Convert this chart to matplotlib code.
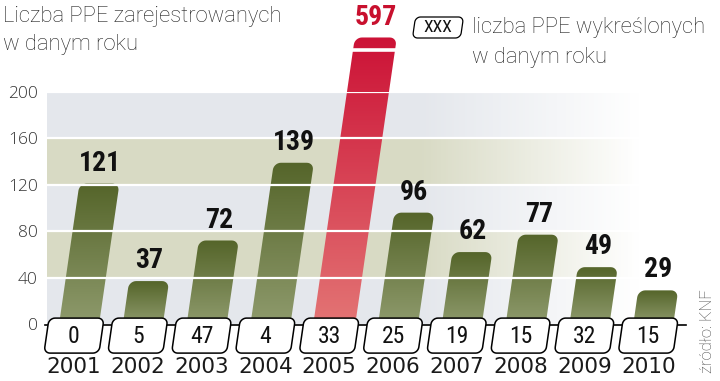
import numpy as np
import matplotlib.pyplot as plt
from matplotlib.patches import Polygon
from matplotlib.colors import to_rgb

years = ['2001', '2002', '2003', '2004', '2005', '2006', '2007', '2008', '2009', '2010']
registered = [121, 37, 72, 139, 597, 96, 62, 77, 49, 29]   # liczba PPE zarejestrowanych
deleted = [0, 5, 47, 4, 33, 25, 19, 15, 32, 15]            # liczba PPE wykreślonych
yticks = [0, 40, 80, 120, 160, 200]
highlight = '2005'

W, H = 720, 381
LIGHT = ['Roboto', 'DejaVu Sans']
NARROW = ['Roboto Condensed', 'Liberation Sans', 'DejaVu Sans']

fig = plt.figure(figsize=(W / 100, H / 100), dpi=100)
ax = fig.add_axes([47 / W, (H - 324) / H, (690 - 47) / W, (324 - 92) / H])
ax.set_xlim(-0.423, 9.655)
ax.set_ylim(0, 200)
for s in ax.spines.values():
    s.set_visible(False)
ax.set_xticks([])
ax.set_yticks(yticks)
ax.tick_params(axis='y', length=0, pad=6.5, labelsize=12.5, labelcolor='#333333')
for lbl in ax.get_yticklabels():
    lbl.set_family(['Open Sans', 'DejaVu Sans'])
    lbl.set_fontweight('light')

# pixels per data unit
SX = (690 - 47) / (9.655 + 0.423)
SY = (324 - 92) / 200.0
K = 0.145   # slant of the bars (px per px)


def skew_box(xc, yc, w, h, r, top_only=False):
    """rounded, slanted rectangle; centre in data units, sizes in pixels"""
    hw, hh = w / 2.0, h / 2.0
    pts = []
    for i, (sx, sy, a0) in enumerate([(1, 1, 0), (-1, 1, 90), (-1, -1, 180), (1, -1, 270)]):
        rr = r if (not top_only or i < 2) else 0
        cu, cv = sx * (hw - rr), sy * (hh - rr)
        for a in np.linspace(a0, a0 + 90, 8):
            u = cu + rr * np.cos(np.radians(a))
            v = cv + rr * np.sin(np.radians(a))
            u += K * v
            pts.append((xc + u / SX, yc + v / SY))
    return pts


# background bands fading to white on the right
xl = ax.get_xlim()
ncol = 300
px = np.linspace(47, 690, ncol)
alpha = np.clip((640 - px) / (640 - 420), 0, 1)
band_cols = ['#e4e7ec', '#d8dac4', '#e4e7ec', '#d8dac4', '#e4e7ec']
bands = np.zeros((5, ncol, 4))
for j, c in enumerate(band_cols):
    bands[j, :, :3] = to_rgb(c)
    bands[j, :, 3] = alpha
ax.imshow(bands, extent=[xl[0], xl[1], 0, 200], origin='lower', aspect='auto',
          interpolation='nearest', zorder=0)

for y in yticks[1:]:
    ax.axhline(y, color='white', lw=1.6, zorder=3)

CAP = 247   # red bar is cut off here
for i, (yr, v) in enumerate(zip(years, registered)):
    red = yr == highlight
    vd = min(v, CAP)
    hpx = vd * SY
    w = 42 if red else 40
    xc = i + 0.08 + K * hpx / 2 / SX
    pts = skew_box(xc, vd / 2.0, w, hpx, 7, top_only=True)
    poly = Polygon(pts, closed=True, facecolor='none', edgecolor='none', clip_on=False, zorder=2)
    ax.add_patch(poly)
    top_c = to_rgb('#cc1236' if red else '#55652a')
    bot_c = to_rgb('#e37474' if red else '#8e9a6c')
    t = np.linspace(0, 1, 128)[:, None]
    grad = (1 - t) * np.array(top_c) + t * np.array(bot_c)
    half = (w / 2 + K * hpx / 2) / SX
    im = ax.imshow(grad[:, None, :], extent=[xc - half, xc + half, 0, vd], aspect='auto', zorder=2)
    im.set_clip_path(poly)
    im.set_clip_box(fig.bbox)
    xt = i + 0.08 + K * hpx / SX
    if red:
        # break mark in the cut-off bar
        gy = vd - 10.5
        ax.plot([xt - 0.5, xt + 0.5], [gy, gy], color='white', lw=2.6, clip_on=False, zorder=3)
    ax.annotate(str(v), xy=(xt, vd), xytext=(0, 5), textcoords='offset points',
                ha='center', va='bottom', fontsize=20, fontweight='bold', family=NARROW,
                color='#c8102e' if red else '#111111', zorder=6, annotation_clip=False)

# base line and boxes with deleted counts
ax.plot([-0.455, 9.59], [-0.9, -0.9], color='black', lw=1.2, clip_on=False, zorder=4)
for i, (yr, d) in enumerate(zip(years, deleted)):
    box = Polygon(skew_box(i, -10.0, 55, 35, 6), closed=True, facecolor='white',
                  edgecolor='black', lw=1.1, clip_on=False, zorder=5)
    ax.add_patch(box)
    ax.text(i, -10.5, str(d), ha='center', va='center', fontsize=17, family=NARROW,
            color='#111111', zorder=6, clip_on=False)
    ax.text(i, -37, yr, ha='center', va='center', fontsize=15.5, family='DejaVu Sans',
            color='#1a1a1a', zorder=6, clip_on=False)

# legend
lx, ly = (438 - 74) / SX, (324 - 27.5) / SY
ax.add_patch(Polygon(skew_box(lx, ly, 48, 21, 5), closed=True, facecolor='white',
                     edgecolor='black', lw=0.9, clip_on=False, zorder=5))
ax.text(lx, ly, 'XXX', ha='center', va='center', fontsize=12.5,
        family=NARROW, color='#111111', zorder=6, clip_on=False)
fig.text(472 / W, 1 - 33 / H, 'liczba PPE wykreślonych', va='baseline', fontsize=15.8,
         family=LIGHT, fontweight='light', color='#222222')
fig.text(472 / W, 1 - 63 / H, 'w danym roku', va='baseline', fontsize=15.8,
         family=LIGHT, fontweight='light', color='#222222')

# title
fig.text(3 / W, 1 - 22 / H, 'Liczba PPE zarejestrowanych', va='baseline', fontsize=15.8,
         family=LIGHT, fontweight='light', color='#222222')
fig.text(3 / W, 1 - 50 / H, 'w danym roku', va='baseline', fontsize=15.8,
         family=LIGHT, fontweight='light', color='#222222')

fig.text(708 / W, 1 - 331 / H, 'źródło: KNF', rotation=90, ha='center', va='center',
         fontsize=12, family=LIGHT, fontweight='light', color='#444444')

plt.savefig('out.png', dpi=100)
